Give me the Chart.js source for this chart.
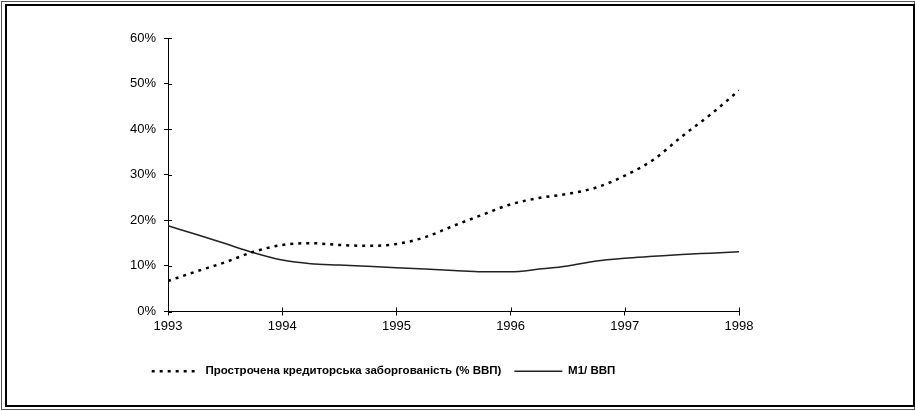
<!DOCTYPE html>
<html>
<head>
<meta charset="utf-8">
<script src="https://cdn.jsdelivr.net/npm/chart.js@4"></script>
<style>
html,body{margin:0;padding:0;background:#fff;}
#wrap{width:915px;height:411px;position:relative;}
</style>
</head>
<body>
<div id="wrap"><canvas id="c" width="915" height="411"></canvas></div>
<script>
// Quarterly observation points (fractional years)
const periods = [1993, 1993.25, 1993.5, 1993.75, 1994, 1994.25, 1994.5, 1994.75,
                 1995, 1995.25, 1995.5, 1995.75, 1996, 1996.25, 1996.5, 1996.75,
                 1997, 1997.25, 1997.5, 1997.75, 1998];
// Overdue payables, % of GDP
const overduePayables = [6.7, 8.8, 10.8, 13.1, 14.6, 15.0, 14.6, 14.4,
                         14.8, 16.3, 18.8, 21.2, 23.5, 24.9, 25.8, 27.2,
                         29.8, 33.3, 38.4, 43.2, 48.5];
// M1 / GDP, %
const m1ToGdp = [18.8, 16.9, 14.9, 12.9, 11.3, 10.5, 10.2, 9.9,
                 9.6, 9.3, 9.0, 8.7, 8.7, 9.3, 10.0, 11.1,
                 11.7, 12.1, 12.5, 12.8, 13.1];
const yearTicks = [1993, 1994, 1995, 1996, 1997, 1998];
const percentTicks = [0, 10, 20, 30, 40, 50, 60];
const seriesNames = ['Прострочена кредиторська заборгованість (% ВВП)', 'М1/ ВВП'];

const toPoints = arr => periods.map((p, i) => ({x: p, y: arr[i]}));

const framePlugin = {
  id: 'frame',
  afterDraw(chart) {
    const ctx = chart.ctx;
    const xs = chart.scales.x, ys = chart.scales.y;
    ctx.save();
    ctx.setLineDash([]);
    // inward halves of the crossing tick marks
    ctx.strokeStyle = '#000';
    ctx.lineWidth = 1;
    ctx.beginPath();
    yearTicks.forEach(v => {
      const px = Math.round(xs.getPixelForValue(v)) + 0.5;
      ctx.moveTo(px, ys.bottom);
      ctx.lineTo(px, ys.bottom - 4);
    });
    percentTicks.forEach(v => {
      const py = Math.round(ys.getPixelForValue(v)) + 0.5;
      ctx.moveTo(xs.left, py);
      ctx.lineTo(xs.left + 4, py);
    });
    ctx.stroke();
    // double frame
    ctx.strokeStyle = '#555';
    ctx.lineWidth = 1;
    ctx.strokeRect(1.5, 1.5, 913, 408);
    ctx.strokeStyle = '#000';
    ctx.lineWidth = 2;
    ctx.strokeRect(6, 5, 908, 401);
    ctx.restore();
  }
};

const tickFont = {family: "'Liberation Sans', Arial, sans-serif", size: 13};

new Chart(document.getElementById('c'), {
  type: 'line',
  data: {
    datasets: [
      {
        label: seriesNames[0],
        data: toPoints(overduePayables),
        borderColor: '#000',
        backgroundColor: '#000',
        borderWidth: 2.5,
        borderDash: [3, 5],
        pointRadius: 0,
        fill: false,
        tension: 0.4,
        cubicInterpolationMode: 'monotone'
      },
      {
        label: seriesNames[1],
        data: toPoints(m1ToGdp),
        borderColor: '#222',
        backgroundColor: '#222',
        borderWidth: 1.5,
        pointRadius: 0,
        fill: false,
        tension: 0.4,
        cubicInterpolationMode: 'monotone'
      }
    ]
  },
  options: {
    responsive: false,
    animation: false,
    layout: {padding: {left: 28, right: 176, top: 38, bottom: 24}},
    plugins: {
      tooltip: {enabled: false},
      legend: {
        position: 'bottom',
        align: 'center',
        labels: {
          usePointStyle: true,
          pointStyle: 'line',
          pointStyleWidth: 48,
          boxHeight: 11,
          padding: 13,
          color: '#000',
          font: {family: "'Liberation Sans', Arial, sans-serif", size: 11.5, weight: 'bold'},
          generateLabels: chart => {
            const items = Chart.defaults.plugins.legend.labels.generateLabels(chart);
            items.forEach(it => {
              const ds = chart.data.datasets[it.datasetIndex];
              it.lineDash = ds.borderDash || [];
              it.lineWidth = ds.borderWidth;
              it.strokeStyle = ds.borderColor;
              it.lineCap = 'butt';
            });
            return items;
          }
        }
      }
    },
    scales: {
      x: {
        type: 'linear',
        min: 1993,
        max: 1998,
        afterBuildTicks: s => { s.ticks = yearTicks.map(v => ({value: v})); },
        ticks: {
          callback: v => String(v),
          color: '#000',
          padding: 3,
          maxRotation: 0,
          font: tickFont
        },
        grid: {drawOnChartArea: false, drawTicks: true, tickLength: 4, color: '#000', lineWidth: 1},
        border: {color: '#000', width: 1},
        afterFit: s => { s.height = 41; }
      },
      y: {
        min: 0,
        max: 60,
        afterBuildTicks: s => { s.ticks = percentTicks.map(v => ({value: v})); },
        ticks: {
          callback: v => v + '%',
          color: '#000',
          padding: 8,
          font: tickFont
        },
        grid: {drawOnChartArea: false, drawTicks: true, tickLength: 4, color: '#000', lineWidth: 1},
        border: {color: '#000', width: 1},
        afterFit: s => { s.width = 140; }
      }
    }
  },
  plugins: [framePlugin]
});
</script>
</body>
</html>
